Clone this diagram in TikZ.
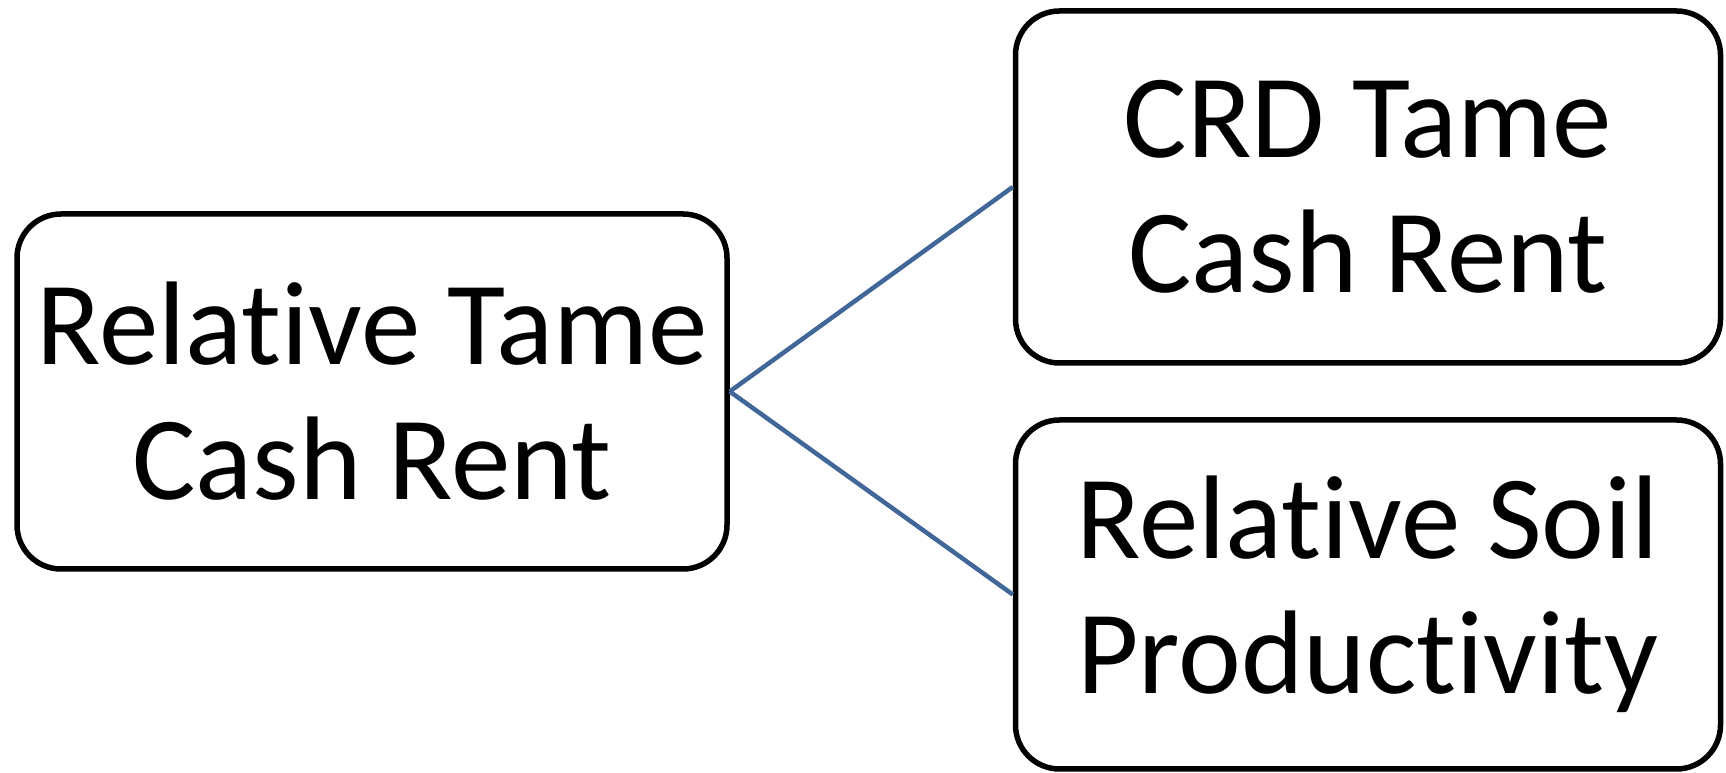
\documentclass[tikz,border=0pt]{standalone}
\usepackage{fontspec}
\setmainfont{Carlito}[Ligatures=NoCommon]
\usetikzlibrary{positioning}

\begin{document}
\begin{tikzpicture}[x=1pt,y=1pt,
    box/.style={draw, line width=5.5pt, rounded corners=44pt, align=center,
        inner sep=0pt, font=\fontsize{119}{135}\selectfont},
    link/.style={draw=linkblue, line width=4.5pt},
    ]
\definecolor{linkblue}{RGB}{65,103,153}
\useasboundingbox (0,0) rectangle (1726,773);
\node[box, minimum width=710pt, minimum height=355pt] (rent) at (372,381.5) {Relative Tame\\Cash Rent};
\node[box, minimum width=705pt, minimum height=352pt] (crd)  at (1368,586)  {CRD Tame\\Cash Rent};
\node[box, minimum width=705pt, minimum height=349pt] (soil) at (1368,178.5) {Relative Soil\\Productivity};

\path[link]
     (rent.east) edge (crd.west)
     (rent.east) edge (soil.west);
\end{tikzpicture}
\end{document}
